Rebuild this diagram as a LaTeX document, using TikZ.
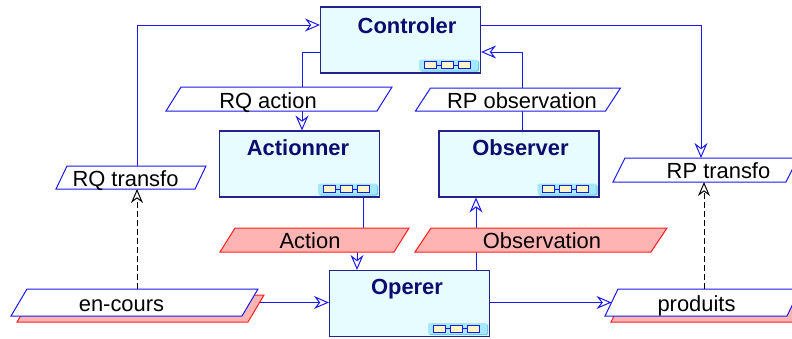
\documentclass[tikz,border=0pt]{standalone}
\usepackage{fontspec}
\setmainfont{Liberation Sans}
\usetikzlibrary{arrows.meta,calc}
\definecolor{lineblue}{RGB}{25,25,235}
\definecolor{boxborder}{RGB}{35,35,140}
\definecolor{boxfill}{RGB}{230,252,255}
\definecolor{titlecol}{RGB}{12,12,110}
\definecolor{pinkfill}{RGB}{255,180,180}
\definecolor{redline}{RGB}{255,30,30}
\definecolor{iconfill}{RGB}{165,232,255}
\definecolor{iconshade}{RGB}{100,200,240}
\definecolor{slotfill}{RGB}{255,245,200}
\begin{document}
\begin{tikzpicture}[x=1bp,y=-1bp,
  proc/.style={draw=boxborder, line width=1.1bp, fill=boxfill, minimum width=160bp, minimum height=66bp, inner sep=0pt},
  title/.style={anchor=base, text=titlecol, font=\fontsize{22}{26}\selectfont\bfseries, inner sep=0pt},
  pbox/.style={inner sep=0pt, outer sep=0pt},
  ptext/.style={anchor=base, text=black, font=\fontsize{22}{26}\selectfont, inner sep=0pt},
  flowline/.style={draw=lineblue, line width=1bp},
  flow/.style={flowline, -{Stealth[open, length=15bp, width=13bp, inset=5bp]}},
  dflow/.style={draw=black, line width=1bp, dash pattern=on 6bp off 3bp, -{Stealth[open, length=14bp, width=12bp, inset=4.5bp]}},
  whitepara/.style={draw=lineblue, line width=1bp, fill=white},
  redpara/.style={draw=redline, line width=1bp, fill=pinkfill},
  slot/.style={draw=lineblue, line width=0.9bp, fill=slotfill},
  icon/.pic={
    \fill[iconshade, rounded corners=2bp] (-61,-13) rectangle (-2,-2);
    \fill[iconfill, rounded corners=2bp] (-62,-14) rectangle (-3,-3);
    \foreach \a in {-57,-40,-23} \draw[slot] (\a,-12) rectangle ++(12,7);
    \draw[draw=lineblue, line width=0.9bp] (-45,-8.5) -- (-40,-8.5) (-28,-8.5) -- (-23,-8.5);
  }]
\useasboundingbox (0,0) rectangle (792,338);

% process boxes
\node[proc] (ctrl) at (400.5,40) {};
\node[proc] (act) at (299.5,164) {};
\node[proc] (obs) at (519,164) {};
\node[proc] (op) at (409.5,303.5) {};
\pic at (ctrl.south east) {icon};
\pic at (act.south east) {icon};
\pic at (obs.south east) {icon};
\pic at (op.south east) {icon};
\node[title] (ctrl-t) at (407,33) {Controler};
\node[title] (act-t) at (298,155) {Actionner};
\node[title] (obs-t) at (520.5,155) {Observer};
\node[title] (op-t) at (407,294) {Operer};

% parallelogram frames (invisible rectangles)
\node[pbox, minimum width=211bp, minimum height=24bp] (rqa) at (279,99) {};
\node[pbox, minimum width=190bp, minimum height=23bp] (rpo) at (518,99.5) {};
\node[pbox, minimum width=139bp, minimum height=23bp] (rqt) at (131,177.5) {};
\node[pbox, minimum width=173bp, minimum height=24bp] (rpt) at (705.5,170) {};
\node[pbox, minimum width=231bp, minimum height=27bp] (enc) at (134.5,302.5) {};
\node[pbox, minimum width=182bp, minimum height=27bp] (pro) at (702.5,302.5) {};
\node[pbox, minimum width=174bp, minimum height=24bp] (actn) at (314.5,240) {};
\node[pbox, minimum width=236bp, minimum height=24bp] (obsn) at (541,240) {};

% routing columns and rows
\coordinate (colA) at (137,0);
\coordinate (colB) at (302,0);
\coordinate (colC) at (363,0);
\coordinate (colCb) at (357,0);
\coordinate (colD) at (476,0);
\coordinate (colE) at (522,0);
\coordinate (colF) at (701,0);
\coordinate (colG) at (704,0);
\coordinate (rowA) at (0,25);
\coordinate (rowB) at (0,52);

% connectors
\draw[flow] (rqt.north -| colA) |- (ctrl.west |- rowA);
\draw[flowline] (ctrl.west |- rowB) -| (rqa.north -| colB);
\draw[flow] (rqa.south -| colB) -- (act.north -| colB);
\draw[flowline] (act.south -| colC) -- (actn.north -| colC);
\draw[flow] (actn.south -| colCb) -- (op.north -| colCb);
\draw[flowline] (op.north -| colD) -- (obsn.south -| colD);
\draw[flow] (obsn.north -| colD) -- (obs.south -| colD);
\draw[flowline] (obs.north -| colE) -- (rpo.south -| colE);
\draw[flow] (rpo.north -| colE) |- (ctrl.east |- rowB);
\draw[flow] (ctrl.east |- rowA) -| (rpt.north -| colF);
\draw[flow] (enc.center) -- (enc.center -| op.west);
\draw[flow] (op.east |- pro.west) -- (pro.west);
\draw[dflow] (enc.north -| colA) -- (rqt.south -| colA);
\draw[dflow] (pro.north -| colG) -- (rpt.south -| colG);

% parallelogram shapes
\newcommand\paraPath[3]{% node, slant, style
  \path[#3] ($(#1.south west)+(-#2/2,0)$) -- ($(#1.south east)+(-#2/2,0)$)
    -- ($(#1.north east)+(#2/2,0)$) -- ($(#1.north west)+(#2/2,0)$) -- cycle;}
\newcommand\paraShadow[2]{% node, slant
  \path[redpara] ($(#1.south west)+(-#2/2+6,6)$) -- ($(#1.south east)+(-#2/2+6,6)$)
    -- ($(#1.north east)+(#2/2+6,6)$) -- ($(#1.north west)+(#2/2+6,6)$) -- cycle;}
\paraShadow{enc}{16}
\paraShadow{pro}{13}
\paraPath{rqa}{15}{whitepara}
\paraPath{rpo}{15}{whitepara}
\paraPath{rqt}{11}{whitepara}
\paraPath{rpt}{12}{whitepara}
\paraPath{enc}{16}{whitepara}
\paraPath{pro}{13}{whitepara}
\paraPath{actn}{15}{redpara}
\paraPath{obsn}{16}{redpara}

% texts
\node[ptext] (rqa-t) at (268,108) {RQ action};
\node[ptext] (rpo-t) at (522,108.5) {RP observation};
\node[ptext] (rqt-t) at (125.5,186) {RQ transfo};
\node[ptext] (rpt-t) at (718.5,178.5) {RP transfo};
\node[ptext] (enc-t) at (121.5,311) {en-cours};
\node[ptext] (pro-t) at (696.5,311) {produits};
\node[ptext] (actn-t) at (310,248.5) {Action};
\node[ptext] (obsn-t) at (542,248.5) {Observation};
\end{tikzpicture}
\end{document}
